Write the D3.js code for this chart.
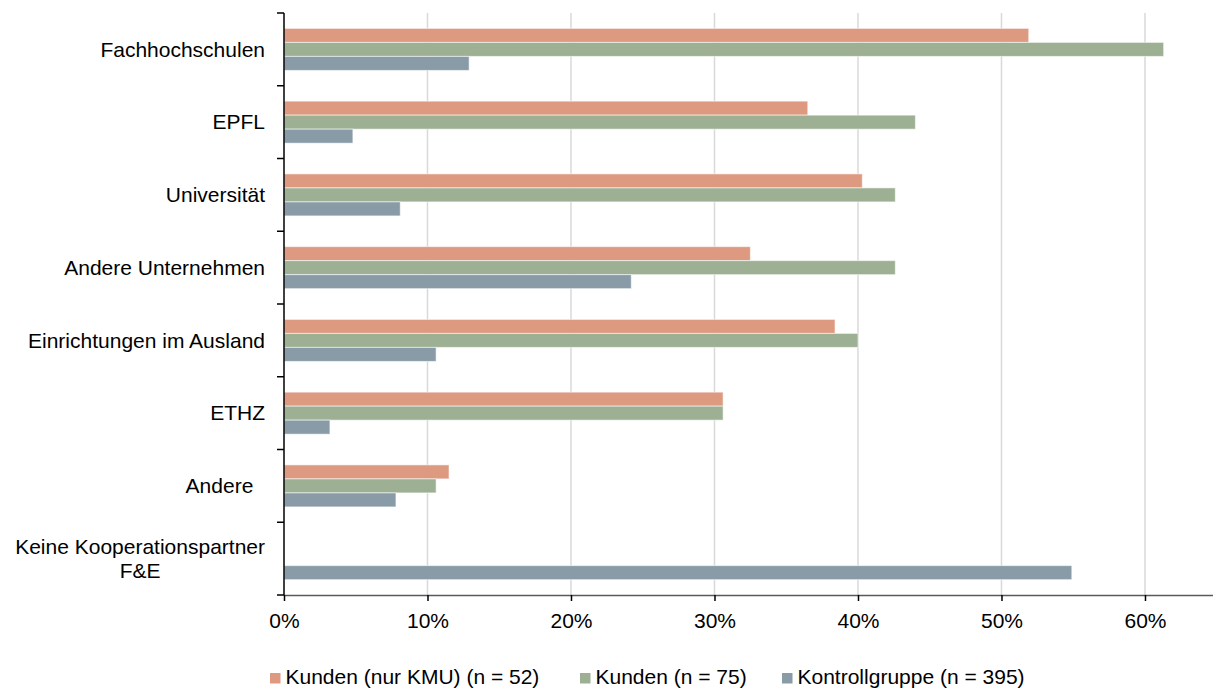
<!DOCTYPE html>
<html>
<head>
<meta charset="utf-8">
<script src="https://cdn.jsdelivr.net/npm/d3@7"></script>
<style>
  html, body { margin: 0; padding: 0; background: #fff; }
  svg { display: block; }
  text { font-family: "Liberation Sans", Arial, sans-serif; fill: #000; }
</style>
</head>
<body>
<svg id="chart" width="1213" height="689"></svg>
<script>
const categories = [
  "Fachhochschulen",
  "EPFL",
  "Universität",
  "Andere Unternehmen",
  "Einrichtungen im Ausland",
  "ETHZ",
  "Andere  ",
  "Keine Kooperationspartner\nF&E"
];
const seriesNames = ["Kunden (nur KMU) (n = 52)", "Kunden (n = 75)", "Kontrollgruppe (n = 395)"];
const kundenKMU = [0.519, 0.365, 0.403, 0.325, 0.384, 0.306, 0.115, 0];
const kunden = [0.613, 0.440, 0.426, 0.426, 0.400, 0.306, 0.106, 0];
const kontrollgruppe = [0.129, 0.048, 0.081, 0.242, 0.106, 0.032, 0.078, 0.549];
const xTicks = [0, 0.1, 0.2, 0.3, 0.4, 0.5, 0.6];
const colors = ["#DD9A80", "#9DB094", "#889BA7"];

const seriesValues = [kundenKMU, kunden, kontrollgruppe];

(function () {
const svg = d3.select("#chart");
const pLeft = 284, pRight = 1213, pTop = 13, pBottom = 595;

const x = d3.scaleLinear().domain([0, 0.6474]).range([pLeft, pRight]);
const y = d3.scaleBand().domain(categories).range([pTop, pBottom]).padding(0);
const inner = d3.scaleBand().domain(seriesNames).range([15.4, 57.4]).padding(0);

// gridlines
svg.append("g").selectAll("line")
  .data(xTicks.filter(d => d > 0))
  .join("line")
  .attr("x1", d => x(d)).attr("x2", d => x(d))
  .attr("y1", pTop).attr("y2", pBottom)
  .attr("stroke", "#d9d9d9").attr("stroke-width", 1.5);

// bars
const rows = [];
categories.forEach((c, i) => {
  seriesNames.forEach((s, j) => {
    rows.push({ cat: c, series: s, value: seriesValues[j][i], color: colors[j] });
  });
});
svg.append("g").selectAll("rect")
  .data(rows.filter(d => d.value > 0))
  .join("rect")
  .attr("x", x(0))
  .attr("y", d => y(d.cat) + inner(d.series))
  .attr("width", d => x(d.value) - x(0))
  .attr("height", inner.bandwidth())
  .attr("fill", d => d.color)
  .attr("stroke", "rgba(255,255,255,0.55)")
  .attr("stroke-width", 1);

// x axis
const xAxis = d3.axisBottom(x).tickValues(xTicks).tickFormat(d3.format(".0%")).tickSize(6).tickSizeOuter(0).tickPadding(12);
const gx = svg.append("g").attr("transform", `translate(0,${pBottom})`).call(xAxis);
gx.select(".domain").attr("stroke", "#595959").attr("stroke-width", 1.5);
gx.selectAll(".tick line").attr("stroke", "#000").attr("stroke-width", 1.5);
gx.selectAll(".tick text").attr("font-size", 21).attr("font-family", "Liberation Sans, Arial, sans-serif").attr("fill", "#000");

// y axis line and boundary ticks
const boundaries = categories.map(c => y(c)).concat([pBottom]);
svg.append("line").attr("x1", pLeft).attr("x2", pLeft).attr("y1", pTop).attr("y2", pBottom)
  .attr("stroke", "#000").attr("stroke-width", 1.5);
svg.append("g").selectAll("line").data(boundaries).join("line")
  .attr("x1", pLeft - 7).attr("x2", pLeft).attr("y1", d => d).attr("y2", d => d)
  .attr("stroke", "#000").attr("stroke-width", 1.5);

// category labels
const labelG = svg.append("g");
categories.forEach(c => {
  const lines = c.split("\n");
  const cy = y(c) + y.bandwidth() / 2;
  const lh = 24;
  const t = labelG.append("text")
    .attr("font-size", 21)
    .attr("xml:space", "preserve")
    .style("white-space", "pre");
  if (lines.length === 1) {
    t.attr("x", 265).attr("y", cy).attr("dy", "0.35em").attr("text-anchor", "end").text(lines[0]);
  } else {
    const tmp = svg.append("text").attr("font-size", 21).text(lines[0]);
    const w = tmp.node().getComputedTextLength();
    tmp.remove();
    const cx = 265 - w / 2;
    lines.forEach((ln, k) => {
      t.append("tspan")
        .attr("x", cx)
        .attr("y", cy + (k - (lines.length - 1) / 2) * lh)
        .attr("dy", "0.35em")
        .attr("text-anchor", "middle")
        .text(ln);
    });
  }
});

// legend
const legendX = [270, 580, 782];
const legend = svg.append("g");
seriesNames.forEach((s, j) => {
  legend.append("rect").attr("x", legendX[j]).attr("y", 673).attr("width", 10.5).attr("height", 10.5).attr("fill", colors[j]);
  legend.append("text").attr("x", legendX[j] + 15.5).attr("y", 683.5).attr("font-size", 21).text(s);
});
})();
</script>
</body>
</html>
